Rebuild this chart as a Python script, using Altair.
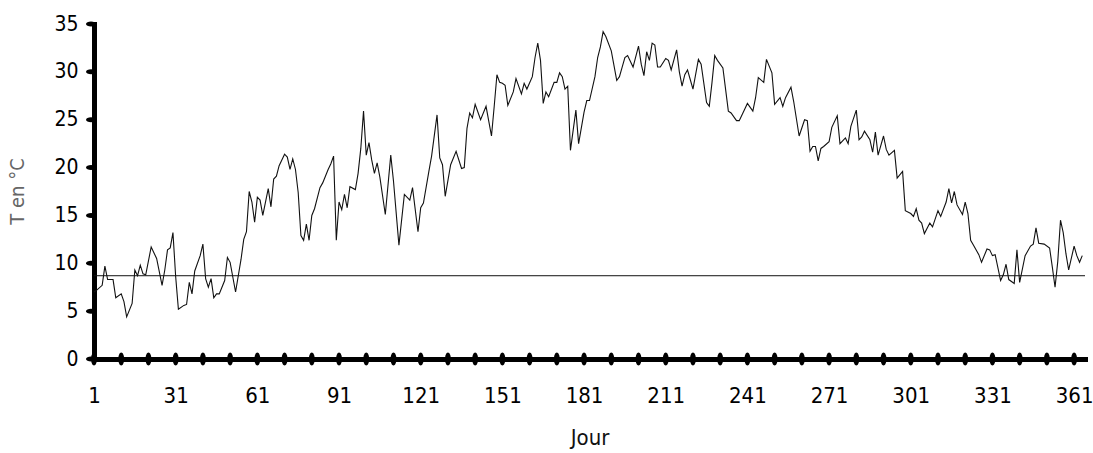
import altair as alt
import pandas as pd

# Daily temperature readings (day of year, °C)
days = [1, 2, 4, 5, 6, 8, 9, 11, 12, 13, 15, 16, 17, 18, 19, 20, 22, 23, 24, 26,
        27, 28, 29, 30, 31, 32, 34, 35, 36, 37, 38, 40, 41, 42, 43, 44, 45, 46, 47, 49,
        50, 51, 53, 55, 56, 57, 58, 59, 60, 61, 62, 63, 65, 66, 67, 68, 69, 71, 72, 73,
        74, 75, 76, 77, 78, 79, 80, 81, 82, 84, 85, 86, 87, 88, 89, 90, 91,
        92, 93, 94, 95, 97, 98, 99, 100, 101, 102, 103, 104, 105, 106, 108, 110, 111, 113,
        115, 117, 118, 120, 121, 122, 124, 125, 127, 128, 129, 130, 132, 134, 136, 137, 138,
        139, 140, 141, 143, 145, 147, 148, 149, 150, 151, 152,
        153, 155, 156, 158, 159, 160, 162, 163, 164, 165, 166, 167, 168, 170, 171, 172, 173,
        174, 175, 176, 178, 179, 181, 182, 183, 185, 186, 187, 188, 189, 191, 193, 194, 195,
        196, 197, 199, 201, 202, 203, 204, 205, 206, 207, 208, 209, 211, 212,
        213, 215, 216, 217, 218, 219, 220, 221, 223, 224, 226, 227, 228, 229, 230, 232, 234,
        235, 237, 238, 240, 241, 243, 244, 245, 247, 248, 250, 251, 253, 254, 255, 257, 258,
        260, 262, 263, 264, 265, 266, 267, 268, 269, 271, 272,
        274, 275, 277, 278, 279, 281, 282, 283, 284, 286, 287, 288, 289, 291, 292, 293, 295,
        296, 298, 299, 301, 302, 303, 304, 305, 306, 308, 309, 311, 312, 314, 315, 316, 317,
        318, 320, 321, 322, 323, 324, 326, 327, 329, 330, 331, 332, 334,
        335, 336, 337, 339, 340, 341, 343, 345, 346, 347, 348, 350, 352, 353, 354, 355, 356,
        357, 358, 359, 361, 362, 363, 364]

temps = [7.0, 7.2, 7.7, 9.7, 8.3, 8.3, 6.4, 6.8, 6.0, 4.4, 5.8, 9.3, 8.7, 9.8, 8.9, 8.8, 11.7, 11.1, 10.5, 7.7,
         9.3, 11.4, 11.6, 13.2, 8.6, 5.2, 5.6, 5.7, 8.0, 6.8, 9.2, 10.8, 12.0, 8.4, 7.5, 8.4, 6.4, 6.8, 6.8, 8.2,
         10.6, 10.1, 7.0, 10.4, 12.5, 13.3, 17.5, 16.4, 14.3, 16.9, 16.6, 15.0, 17.8, 15.9, 18.8, 19.1, 20.2, 21.4, 21.1, 19.8,
         20.9, 19.8, 17.4, 12.9, 12.4, 14.1, 12.4, 15.0, 15.7, 17.9, 18.4, 19.1, 19.8, 20.4, 21.2, 12.4, 16.4,
         15.6, 17.2, 15.8, 18.0, 17.7, 19.4, 22.0, 25.9, 21.3, 22.6, 20.8, 19.4, 20.5, 19.0, 15.1, 21.3, 18.6, 11.9,
         17.2, 16.6, 17.9, 13.3, 15.8, 16.3, 19.6, 21.2, 25.5, 21.0, 20.3, 17.0, 20.3, 21.7, 19.9, 20.0, 24.1,
         25.7, 25.2, 26.6, 25.0, 26.4, 23.3, 26.4, 29.7, 28.9, 28.8, 28.6,
         26.5, 27.9, 29.3, 27.7, 28.8, 28.2, 29.5, 31.5, 33.0, 31.2, 26.7, 27.9, 27.4, 28.9, 28.9, 29.9, 29.5,
         28.2, 28.5, 21.8, 26.0, 22.5, 25.8, 27.0, 27.0, 29.5, 31.5, 32.6, 34.2, 33.7, 32.2, 29.1, 29.5, 30.5,
         31.5, 31.7, 30.5, 32.7, 30.8, 29.6, 32.1, 31.2, 33.0, 32.8, 30.5, 30.5, 31.4, 31.2,
         30.2, 32.3, 30.0, 28.5, 29.7, 30.2, 29.2, 28.2, 31.3, 30.8, 26.8, 26.4, 28.9, 31.7, 31.2, 30.4, 25.9,
         25.7, 24.9, 24.9, 26.1, 26.7, 25.9, 27.3, 29.4, 28.9, 31.3, 29.9, 26.6, 27.3, 26.4, 27.3, 28.4, 26.9,
         23.3, 25.0, 24.9, 21.7, 22.2, 22.2, 20.7, 22.0, 22.2, 22.7, 24.2,
         25.4, 22.5, 23.1, 22.5, 24.3, 26.0, 22.9, 23.2, 23.8, 22.9, 21.6, 23.7, 21.3, 23.3, 21.9, 21.3, 21.8,
         18.9, 19.6, 15.5, 15.2, 14.9, 15.7, 14.5, 14.2, 13.1, 14.2, 13.8, 15.5, 14.9, 16.4, 17.8, 16.3, 17.5,
         16.1, 15.1, 16.4, 15.2, 12.4, 11.9, 10.9, 10.1, 11.5, 11.4, 10.8, 10.9, 8.2,
         8.8, 9.9, 8.3, 7.9, 11.4, 8.0, 10.8, 11.8, 12.0, 13.7, 12.1, 12.0, 11.6, 9.6, 7.5, 10.2, 14.5,
         13.2, 11.0, 9.3, 11.8, 10.8, 10.1, 10.8]

ref_level = [8.7]
x_label_days = [1, 31, 61, 91, 121, 151, 181, 211, 241, 271, 301, 331, 361]
x_tick_days = [1, 11, 21, 31, 41, 51, 61, 71, 81, 91, 101, 111, 121, 131, 141, 151, 161,
               171, 181, 191, 201, 211, 221, 231, 241, 251, 261, 271, 281, 291, 301, 311,
               321, 331, 341, 351, 361]
y_ticks = [0, 5, 10, 15, 20, 25, 30, 35]

FONT = "Liberation Sans Narrow, DejaVu Sans Condensed, Arial Narrow, sans-serif"

df = pd.DataFrame({"day": days, "temp": temps})
ref_df = pd.DataFrame({"day": [1], "temp": ref_level})
xt_df = pd.DataFrame({"day": x_tick_days})
yt_df = pd.DataFrame({"temp": y_ticks})

xscale = alt.Scale(domain=[1, 365], nice=False, zero=False)
yscale = alt.Scale(domain=[0, 35], nice=False, zero=True)

x_axis = alt.Axis(values=x_label_days, title="Jour", ticks=False, grid=False,
                  domainWidth=5, domainColor="black", domainCap="square",
                  labelFont=FONT, labelFontSize=22, labelPadding=26, labelColor="black",
                  labelFlush=False, labelOverlap=False,
                  titleFont=FONT, titleFontSize=22, titleFontWeight="normal",
                  titleColor="#111", titleY=78, titleBaseline="middle")
y_axis = alt.Axis(values=y_ticks, title="T en °C", ticks=False, grid=False,
                  domainWidth=5, domainColor="black", domainCap="square",
                  labelFont=FONT, labelFontSize=21, labelPadding=16, labelColor="black",
                  labelFlush=False,
                  titleFont=FONT, titleFontSize=20, titleFontWeight="normal",
                  titleColor="#666", titleX=-77, titleY=167, titleAngle=270,
                  titleBaseline="middle", titleAlign="center")

line = alt.Chart(df).mark_line(color="#111", strokeWidth=1.1).encode(
    x=alt.X("day:Q", scale=xscale, axis=x_axis),
    y=alt.Y("temp:Q", scale=yscale, axis=y_axis),
)

ref = alt.Chart(ref_df).mark_rule(color="#111", strokeWidth=1).encode(
    y=alt.Y("temp:Q", scale=yscale),
)

VERT_ELLIPSE = "M -0.45 0 A 0.45 1 0 1 1 0.45 0 A 0.45 1 0 1 1 -0.45 0 Z"
HORZ_ELLIPSE = "M 0 -0.5 A 1 0.5 0 1 1 0 0.5 A 1 0.5 0 1 1 0 -0.5 Z"

xticks = alt.Chart(xt_df).mark_point(shape=VERT_ELLIPSE, filled=True, size=169,
                                     color="black", opacity=1).encode(
    x=alt.X("day:Q", scale=xscale),
    y=alt.value(335),
)

yticks = alt.Chart(yt_df).mark_point(shape=HORZ_ELLIPSE, filled=True, size=100,
                                     color="black", opacity=1).encode(
    x=alt.value(-3),
    y=alt.Y("temp:Q", scale=yscale),
)

chart = alt.layer(line, ref, xticks, yticks).properties(
    width=991, height=335,
    autosize=alt.AutoSizeParams(type="none"),
    padding={"left": 94, "top": 24, "right": 8, "bottom": 94},
    background="white",
).configure_view(stroke=None)

chart.save("out.html", embed_options={"renderer": "svg", "actions": False})
